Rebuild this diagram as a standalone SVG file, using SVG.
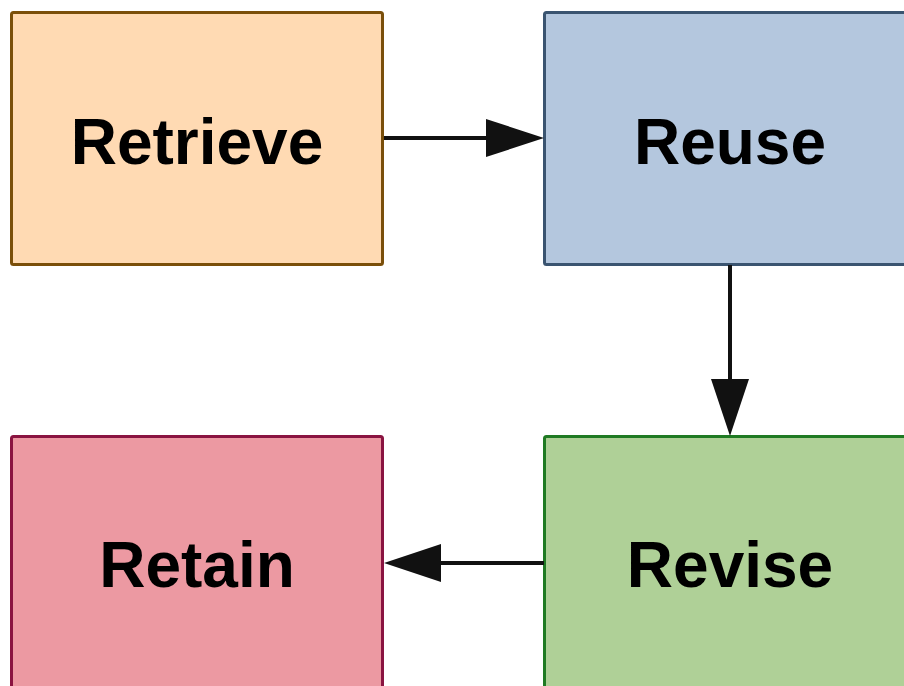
<svg xmlns="http://www.w3.org/2000/svg" width="904" height="686" viewBox="0 0 904 686">
<style>
.box{stroke-width:3}
.lbl{font-family:"Liberation Sans",Arial,sans-serif;font-weight:bold;font-size:64px;text-anchor:middle;fill:#000}
.edge{stroke:#111;stroke-width:4;fill:none}
.head{fill:#111}
</style>
<rect width="904" height="686" fill="#fff"/>
<g id="retrieve"><rect class="box" x="11.5" y="12.5" width="371" height="252" rx="2" fill="#ffdab3" stroke="#7a4f0a"/><text class="lbl" x="197" y="164">Retrieve</text></g>
<g id="reuse"><rect class="box" x="544.5" y="12.5" width="371" height="252" rx="2" fill="#b4c7de" stroke="#3a5470"/><text class="lbl" x="730" y="164">Reuse</text></g>
<g id="revise"><rect class="box" x="544.5" y="436.5" width="371" height="252" rx="2" fill="#afd097" stroke="#1f7a23"/><text class="lbl" x="730" y="587">Revise</text></g>
<g id="retain"><rect class="box" x="11.5" y="436.5" width="371" height="252" rx="2" fill="#ec99a2" stroke="#8a1441"/><text class="lbl" x="197" y="587">Retain</text></g>
<g id="connectors">
<line class="edge" x1="384" y1="138" x2="488" y2="138"/><polygon class="head" points="486,119 544,138 486,157"/>
<line class="edge" x1="730" y1="265" x2="730" y2="382"/><polygon class="head" points="711,379 749,379 730,436"/>
<line class="edge" x1="544" y1="563" x2="438" y2="563"/><polygon class="head" points="441,544 441,582 384,563"/>
</g>
</svg>
